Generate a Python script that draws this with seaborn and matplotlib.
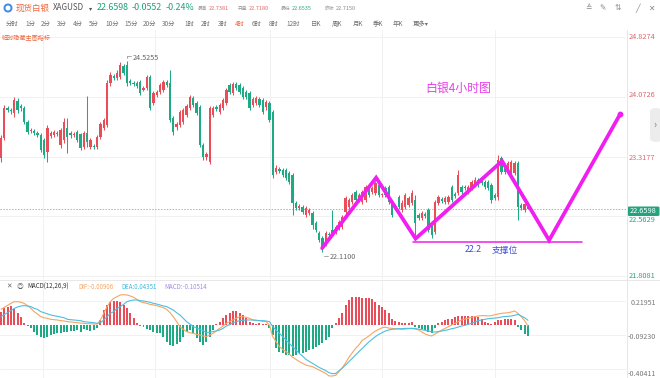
import numpy as np
import matplotlib
matplotlib.use('Agg')
import matplotlib.pyplot as plt
import seaborn as sns
from matplotlib.patches import Ellipse, FancyBboxPatch
from matplotlib.lines import Line2D

# ---------------- data (4h silver candles) ----------------
opens = [23.30, 23.55, 23.93, 23.91, 23.87, 24.02, 23.96, 23.93, 23.75, 23.64,
         23.64, 23.62, 23.59, 23.53, 23.37, 23.58, 23.59, 23.62, 23.46, 23.53,
         23.68, 23.62, 23.59, 23.63, 23.60, 23.44, 23.62, 23.44, 23.45, 23.44,
         23.56, 23.68, 23.72, 24.25, 24.34, 24.31, 24.32, 24.46, 24.47, 24.27,
         24.25, 24.25, 24.26, 24.16, 24.18, 24.32, 23.99, 24.10, 24.13, 24.16,
         24.26, 24.25, 23.80, 23.69, 23.72, 23.75, 23.84, 23.93, 24.06, 23.99,
         23.94, 23.46, 23.31, 23.25, 23.84, 23.94, 23.88, 23.93, 23.99, 24.22,
         24.12, 24.23, 24.22, 24.18, 24.13, 24.12, 23.97, 23.99, 24.04, 24.03,
         23.94, 23.99, 23.88, 23.12, 23.16, 23.15, 23.15, 23.11, 23.09, 22.73,
         22.67, 22.68, 22.58, 22.60, 22.60, 22.48, 22.35, 22.29, 22.23, 22.34,
         22.39, 22.36, 22.42, 22.43, 22.62, 22.68, 22.74, 22.87, 22.77, 22.74,
         22.77, 22.89, 22.87, 22.86, 22.96, 22.83, 22.92, 22.93, 22.73, 22.67,
         22.81, 22.64, 22.68, 22.71, 22.73, 22.77, 22.58, 22.54, 22.59, 22.64,
         22.48, 22.36, 22.73, 22.78, 22.74, 22.74, 22.93, 22.84, 22.86, 22.93,
         22.92, 22.87, 22.92, 22.96, 23.02, 23.05, 23.00, 23.00, 22.96, 22.83,
         22.81, 23.30, 23.21, 23.15, 23.09, 23.11, 23.24, 22.71, 22.64, 22.718]
closes = [23.55, 23.93, 23.91, 23.89, 24.03, 23.91, 23.93, 23.75, 23.63, 23.65,
          23.62, 23.59, 23.40, 23.34, 23.68, 23.62, 23.63, 23.60, 23.65, 23.75,
          23.56, 23.59, 23.60, 23.53, 23.43, 23.62, 23.50, 23.53, 23.44, 23.56,
          23.73, 23.78, 24.25, 24.35, 24.31, 24.37, 24.47, 24.37, 24.25, 24.25,
          24.23, 24.21, 24.12, 24.18, 24.32, 23.93, 24.12, 24.13, 24.22, 24.26,
          24.22, 23.78, 23.63, 23.73, 23.88, 23.91, 23.96, 24.07, 23.97, 23.87,
          23.46, 23.31, 23.35, 23.93, 23.93, 23.92, 23.97, 24.03, 24.16, 24.13,
          24.23, 24.18, 24.13, 24.07, 24.07, 23.93, 24.04, 24.06, 23.97, 23.88,
          24.01, 23.78, 23.09, 23.17, 23.14, 23.09, 23.05, 23.00, 22.73, 22.67,
          22.69, 22.62, 22.67, 22.64, 22.45, 22.39, 22.26, 22.16, 22.35, 22.33,
          22.34, 22.43, 22.49, 22.55, 22.79, 22.77, 22.83, 22.77, 22.83, 22.87,
          22.93, 22.83, 22.92, 22.98, 22.83, 22.84, 22.83, 22.74, 22.58, 22.69,
          22.68, 22.73, 22.83, 22.79, 22.86, 22.48, 22.54, 22.60, 22.57, 22.39,
          22.33, 22.74, 22.81, 22.76, 22.79, 22.81, 22.77, 22.82, 23.09, 22.87,
          22.93, 22.93, 23.00, 23.02, 22.96, 22.98, 22.93, 22.92, 22.77, 22.79,
          23.27, 23.12, 23.12, 23.24, 23.25, 23.24, 22.68, 22.67, 22.715, 22.6598]
highs = [23.59, 23.97, 23.96, 23.93, 24.07, 24.06, 23.98, 23.96, 23.78, 23.68,
         23.67, 23.64, 23.62, 23.55, 23.72, 23.64, 23.65, 23.64, 23.68, 23.80,
         23.80, 23.64, 23.63, 23.65, 23.62, 23.64, 24.08, 23.55, 23.48, 23.59,
         23.75, 23.80, 24.28, 24.39, 24.36, 24.41, 24.51, 24.49, 24.5255, 24.30,
         24.27, 24.27, 24.28, 24.21, 24.35, 24.35, 24.15, 24.16, 24.25, 24.28,
         24.28, 24.41, 23.83, 23.75, 23.91, 23.93, 23.98, 24.10, 24.08, 24.02,
         23.97, 23.49, 23.37, 23.96, 23.96, 23.97, 23.99, 24.06, 24.18, 24.25,
         24.26, 24.26, 24.25, 24.21, 24.16, 24.15, 24.07, 24.08, 24.07, 24.06,
         24.03, 24.02, 23.91, 23.21, 23.18, 23.17, 23.17, 23.14, 23.11, 22.76,
         22.72, 22.71, 22.69, 22.67, 22.63, 22.50, 22.38, 22.31, 22.38, 22.36,
         22.64, 22.45, 22.52, 22.58, 22.82, 22.79, 22.86, 22.89, 22.86, 22.89,
         22.96, 22.92, 22.95, 23.01, 22.98, 22.86, 22.95, 22.96, 22.76, 22.72,
         22.83, 22.77, 22.86, 22.82, 22.89, 22.83, 22.60, 22.63, 22.62, 22.67,
         22.50, 22.77, 22.83, 22.81, 22.82, 22.83, 22.96, 22.87, 23.15, 22.96,
         22.96, 22.96, 23.02, 23.06, 23.05, 23.07, 23.02, 23.02, 22.98, 22.86,
         23.34, 23.32, 23.24, 23.26, 23.27, 23.26, 23.26, 22.73, 22.73, 22.7381]
lows = [23.25, 23.53, 23.88, 23.85, 23.82, 23.87, 23.89, 23.73, 23.60, 23.62,
        23.59, 23.56, 23.37, 23.30, 23.25, 23.55, 23.56, 23.58, 23.43, 23.49,
        23.36, 23.55, 23.56, 23.50, 23.40, 23.41, 23.44, 23.41, 23.41, 23.41,
        23.54, 23.65, 23.69, 24.21, 24.28, 24.28, 24.30, 24.35, 24.21, 24.22,
        24.21, 24.18, 24.10, 24.15, 24.16, 23.91, 23.97, 24.07, 24.11, 24.13,
        24.20, 23.75, 23.59, 23.65, 23.69, 23.73, 23.82, 23.91, 23.94, 23.84,
        23.44, 23.27, 23.27, 23.22, 23.82, 23.89, 23.85, 23.91, 23.97, 24.11,
        24.10, 24.16, 24.11, 24.04, 24.04, 23.91, 23.94, 23.97, 23.94, 23.85,
        23.91, 23.75, 23.05, 23.10, 23.11, 23.06, 23.02, 22.97, 22.58, 22.64,
        22.64, 22.59, 22.55, 22.58, 22.40, 22.36, 22.24, 22.11, 22.19, 22.30,
        22.31, 22.34, 22.39, 22.40, 22.59, 22.66, 22.72, 22.74, 22.74, 22.72,
        22.74, 22.81, 22.84, 22.83, 22.81, 22.81, 22.81, 22.72, 22.55, 22.64,
        22.66, 22.62, 22.66, 22.68, 22.71, 22.33, 22.52, 22.52, 22.54, 22.36,
        22.29, 22.34, 22.71, 22.73, 22.72, 22.72, 22.74, 22.79, 22.83, 22.84,
        22.89, 22.84, 22.89, 22.93, 22.93, 22.96, 22.91, 22.89, 22.73, 22.77,
        22.77, 23.10, 23.10, 23.12, 23.06, 23.09, 22.52, 22.64, 22.62, 22.6535]

dif = [0.144, 0.163, 0.181, 0.199, 0.215, 0.215, 0.209, 0.199, 0.178, 0.153,
       0.123, 0.101, 0.077, 0.067, 0.061, 0.052, 0.049, 0.046, 0.040, 0.037,
       0.031, 0.028, 0.025, 0.021, 0.018, 0.015, 0.012, 0.012, 0.009, 0.009,
       0.046, 0.107, 0.169, 0.215, 0.245, 0.261, 0.276, 0.279, 0.276, 0.267,
       0.255, 0.236, 0.215, 0.206, 0.199, 0.190, 0.184, 0.178, 0.169, 0.159,
       0.144, 0.113, 0.077, 0.031, -0.015, -0.040, -0.061, -0.071, -0.077, -0.086,
       -0.092, -0.101, -0.107, -0.092, -0.077, -0.052, -0.031, -0.009, 0.015, 0.031,
       0.046, 0.061, 0.077, 0.077, 0.071, 0.061, 0.046, 0.043, 0.040, 0.034,
       0.031, 0.000, -0.107, -0.153, -0.199, -0.224, -0.245, -0.267, -0.297, -0.316,
       -0.337, -0.353, -0.368, -0.377, -0.383, -0.399, -0.414, -0.429, -0.445, -0.469,
       -0.469, -0.463, -0.429, -0.393, -0.347, -0.297, -0.255, -0.215, -0.184, -0.141,
       -0.123, -0.101, -0.077, -0.055, -0.040, -0.025, -0.021, -0.028, -0.031, -0.034,
       -0.037, -0.040, -0.037, -0.034, -0.031, -0.037, -0.046, -0.064, -0.083, -0.095,
       -0.101, -0.083, -0.064, -0.046, -0.031, -0.015, 0.000, 0.015, 0.031, 0.046,
       0.055, 0.061, 0.071, 0.077, 0.083, 0.086, 0.086, 0.083, 0.086, 0.095,
       0.101, 0.107, 0.110, 0.113, 0.120, 0.129, 0.107, 0.077, 0.040, -0.00906]
dea = [0.077, 0.095, 0.113, 0.132, 0.153, 0.166, 0.175, 0.178, 0.175, 0.169,
       0.153, 0.144, 0.123, 0.113, 0.104, 0.092, 0.086, 0.080, 0.074, 0.067,
       0.052, 0.049, 0.046, 0.043, 0.040, 0.031, 0.028, 0.025, 0.021, 0.015,
       0.021, 0.046, 0.077, 0.107, 0.123, 0.153, 0.169, 0.190, 0.215, 0.224,
       0.230, 0.230, 0.224, 0.221, 0.215, 0.209, 0.199, 0.193, 0.184, 0.175,
       0.169, 0.153, 0.138, 0.113, 0.092, 0.061, 0.031, 0.009, -0.015, -0.028,
       -0.040, -0.052, -0.071, -0.067, -0.061, -0.055, -0.046, -0.031, -0.009, 0.003,
       0.021, 0.031, 0.040, 0.043, 0.046, 0.046, 0.046, 0.043, 0.040, 0.040,
       0.037, 0.031, -0.015, -0.046, -0.077, -0.107, -0.138, -0.169, -0.199, -0.230,
       -0.261, -0.285, -0.316, -0.334, -0.353, -0.371, -0.390, -0.405, -0.420, -0.439,
       -0.448, -0.445, -0.420, -0.396, -0.368, -0.337, -0.307, -0.276, -0.245, -0.215,
       -0.184, -0.156, -0.132, -0.107, -0.086, -0.071, -0.055, -0.046, -0.040, -0.037,
       -0.034, -0.034, -0.031, -0.031, -0.031, -0.034, -0.037, -0.043, -0.049, -0.055,
       -0.064, -0.064, -0.061, -0.055, -0.049, -0.043, -0.034, -0.028, -0.018, -0.009,
       -0.003, 0.006, 0.015, 0.028, 0.040, 0.046, 0.052, 0.058, 0.061, 0.064,
       0.067, 0.074, 0.077, 0.080, 0.083, 0.089, 0.098, 0.083, 0.067, 0.04351]
macd_hist = [0.120, 0.156, 0.166, 0.175, 0.147, 0.110, 0.074, 0.018, -0.009, -0.028,
             -0.064, -0.092, -0.110, -0.120, -0.110, -0.092, -0.083, -0.074, -0.074, -0.064,
             -0.064, -0.055, -0.055, -0.046, -0.064, -0.037, -0.046, -0.055, -0.046, -0.028,
             0.046, 0.138, 0.184, 0.212, 0.221, 0.221, 0.212, 0.184, 0.156, 0.110,
             0.064, 0.018, -0.009, -0.018, -0.037, -0.046, -0.064, -0.074, -0.074, -0.110,
             -0.156, -0.184, -0.193, -0.175, -0.156, -0.110, -0.064, -0.046, -0.074, -0.120,
             -0.156, -0.184, -0.156, -0.110, -0.046, 0.009, 0.028, 0.064, 0.092, 0.110,
             0.129, 0.129, 0.110, 0.092, 0.064, 0.028, 0.014, 0.009, 0.014, 0.009,
             0.009, -0.028, -0.092, -0.212, -0.248, -0.258, -0.276, -0.276, -0.285, -0.276,
             -0.258, -0.258, -0.248, -0.230, -0.221, -0.202, -0.184, -0.166, -0.138, -0.110,
             -0.028, 0.018, 0.064, 0.110, 0.184, 0.230, 0.258, 0.258, 0.258, 0.248,
             0.248, 0.248, 0.239, 0.212, 0.184, 0.166, 0.138, 0.110, 0.055, 0.037,
             0.028, 0.018, 0.018, 0.018, 0.028, -0.018, -0.028, -0.037, -0.046, -0.064,
             -0.074, -0.028, 0.018, 0.028, 0.046, 0.055, 0.055, 0.074, 0.083, 0.083,
             0.083, 0.083, 0.083, 0.083, 0.074, 0.055, 0.028, 0.018, 0.009, 0.028,
             0.046, 0.046, 0.055, 0.055, 0.055, 0.046, -0.018, -0.046, -0.080, -0.10514]

price_ticks = [24.8274, 24.0726, 23.3177, 22.5629, 21.8081]
price_tick_labels = ['24.8274', '24.0726', '23.3177', '22.5629', '21.8081']
macd_ticks = [0.21951, -0.09230, -0.40411]
macd_tick_labels = ['0.21951', '-0.09230', '-0.40411']
last_price = 22.6598
peak_label, low_label = '24.5255', '22.1100'

# hand-drawn annotation (candle index, price)
zig_x = [96.9, 113.2, 125.1, 151.2, 165.4, 186.8]
zig_y = [22.16, 23.05, 22.28, 23.26, 22.26, 23.85]
support_x = [124.3, 175.3]
support_y = 22.24

periods = ['分时', '1分', '2分', '3分', '4分', '5分', '10分', '15分', '20分', '30分',
           '1时', '2时', '3时', '4时', '6时', '8时', '12时', '日K', '周K', '月K', '季K', '年K', '更多▾']
period_x = [6, 25, 41, 57, 73, 89, 105, 124, 143, 162, 184, 201, 218, 235, 252, 269,
            286, 311, 332, 353, 373, 393, 413]

# ---------------- style ----------------
sns.set_theme(style='white')
plt.rcParams['font.family'] = ['Noto Sans CJK SC', 'DejaVu Sans']
plt.rcParams['axes.unicode_minus'] = False

UP = '#ea4d5a'
DN = '#1fa985'
GRID = '#f1f1f1'

W, H = 660, 378
fig = plt.figure(figsize=(6.6, 3.78), dpi=100)
fig.patch.set_facecolor('white')

def fx(x):
    return x / W

def fy(y):
    return 1 - y / H

def ftext(x, y, s, size, color, ha='left', **kw):
    fig.text(fx(x), fy(y), s, fontsize=size, color=color, ha=ha, va='center', **kw)

def p_of(y):
    return 25.2948 - 0.012633 * y

def m_of(y):
    return (325 - y) * 0.0092

XL = (-0.302, 188.6)
vgrid = [12.67, 46.5, 81.2, 115.0, 149.1]

ax = fig.add_axes([0, fy(279), fx(626), (279 - 30) / H])
axm = fig.add_axes([0, 0, fx(626), (378 - 280) / H])

# ---------------- candles ----------------
O = np.array(opens); C = np.array(closes); Hh = np.array(highs); Ll = np.array(lows)
idx = np.arange(len(O))
cols = np.where(C >= O, UP, DN)
ax.vlines(idx, Ll, Hh, colors=cols, lw=0.75, zorder=3)
body = np.maximum(np.abs(C - O), 0.012)
ax.bar(idx, body, bottom=np.minimum(O, C), width=0.7, color=cols, linewidth=0, zorder=4)

ax.set_xlim(*XL)
ax.set_ylim(p_of(279), p_of(30))
ax.set_yticks(price_ticks)
ax.set_xticks(vgrid)
ax.grid(True, color=GRID, lw=0.7)
ax.tick_params(labelleft=False, labelbottom=False, length=0)
for s in ax.spines.values():
    s.set_visible(False)
ax.axhline(last_price, color='#7ccdb5', lw=0.7, ls=(0, (1.5, 1.5)), zorder=2)

# annotation zigzag
MAG = '#f01ef0'
ax.plot(zig_x, zig_y, color=MAG, lw=2.7, solid_joinstyle='miter', zorder=6, clip_on=False)
ax.plot([zig_x[-1]], [zig_y[-1]], 'o', color=MAG, ms=3.2, zorder=6, clip_on=False)
ax.plot(support_x, [support_y, support_y], color=MAG, lw=1.1, zorder=6)

# ---------------- MACD ----------------
hist = np.array(macd_hist)
axm.bar(idx, hist, width=0.6, color=np.where(hist >= 0, UP, DN), linewidth=0, zorder=3)
sns.lineplot(x=idx, y=dif, ax=axm, color='#f6a561', lw=0.8, zorder=4)
sns.lineplot(x=idx, y=dea, ax=axm, color='#4cbfe0', lw=0.8, zorder=4)
axm.set_xlim(*XL)
axm.set_ylim(m_of(378), m_of(280))
axm.set_yticks(macd_ticks)
axm.set_xticks(vgrid)
axm.grid(True, color=GRID, lw=0.7)
axm.tick_params(labelleft=False, labelbottom=False, length=0)
axm.set_xlabel(''); axm.set_ylabel('')
for s in axm.spines.values():
    s.set_visible(False)

# frame lines
fig.add_artist(Line2D([fx(626.5), fx(626.5)], [fy(30), 0], color='#e6e6e6', lw=0.7))
fig.add_artist(Line2D([0, 1], [fy(280), fy(280)], color='#e8e8e8', lw=0.7))

# ---------------- right axis labels ----------------
lab_y = [37, 95, 158, 220, 276]
lab_c = ['#e0686f', '#e0686f', '#e0686f', '#2aa588', '#2aa588']
for t, yy, cc in zip(price_tick_labels, lab_y, lab_c):
    ftext(629, yy, t, 5.3, cc)
fig.add_artist(FancyBboxPatch((fx(627.5), fy(216)), fx(32), 9.5 / H,
                              boxstyle='round,pad=0,rounding_size=0.003',
                              fc='#22a47f', ec='none', transform=fig.transFigure))
ftext(643.5, 211.2, '22.6598', 5.3, 'white', ha='center')
for t, yy in zip(macd_tick_labels, [303, 337, 374]):
    ftext(656, yy, t, 5.1, '#777777', ha='right')

fig.add_artist(FancyBboxPatch((fx(650), fy(142)), fx(12), 34 / H,
                              boxstyle='round,pad=0,rounding_size=0.01',
                              fc='#ececec', ec='none', transform=fig.transFigure))
ftext(655, 125, '›', 7, '#777777', ha='center')

# ---------------- chart annotations ----------------
ftext(133, 58, peak_label, 5.2, '#666666')
fig.add_artist(Line2D([fx(127), fx(131)], [fy(55.5), fy(55.5)], color='#9a9a9a', lw=0.6))
fig.add_artist(Line2D([fx(127), fx(127)], [fy(55.5), fy(58)], color='#9a9a9a', lw=0.6))
ftext(330, 257, low_label, 5.2, '#666666')
fig.add_artist(Line2D([fx(324), fx(328)], [fy(256), fy(256)], color='#9a9a9a', lw=0.6))

ftext(425, 88, '白银4小时图', 8.6, '#e83ee8')
ftext(465, 250, '22.2', 6.3, '#3b4fd8')
ftext(492, 250, '支撑位', 6.3, '#3b4fd8')

# ---------------- header ----------------
fig.add_artist(Ellipse((fx(8), fy(8)), 9 / W, 9 / H, fc='#3d8de6', ec='none', transform=fig.transFigure))
fig.add_artist(Ellipse((fx(8), fy(8)), 5 / W, 5 / H, fc='white', ec='none', transform=fig.transFigure))
ftext(16, 8, '现货白银', 6.1, '#f0653a')
ftext(53, 8, 'XAGUSD', 5.8, '#555555')
ftext(89, 8.5, '▾', 4.5, '#555555')
ftext(97, 8, '22.6598', 6.4, '#1aa37b')
ftext(132, 8, '-0.0552', 6.4, '#1aa37b')
ftext(166, 8, '-0.24%', 6.4, '#1aa37b')
hdr = [(198, '最高', '#999999'), (208.5, '22.7381', '#e0686f'),
       (238, '开盘', '#999999'), (248.5, '22.7180', '#e0686f'),
       (281, '最低', '#999999'), (291.5, '22.6535', '#2aa588'),
       (325, '昨收', '#999999'), (335.5, '22.7150', '#888888')]
for xx, t, cc in hdr:
    ftext(xx, 8, t, 3.4 if not t[0].isdigit() else 4.0, cc)

for lab, xx in zip(periods, period_x):
    ftext(xx, 24, lab, 4.6, '#f0653a' if lab == '4时' else '#707070')
ftext(2, 37, '临时隐藏主图指标', 4.4, '#f0653a')

for xx, g in zip([588, 603, 618, 638, 651], ['≙', '✎', '⇅', '╱', '✕']):
    fig.text(fx(xx), fy(8), g, fontsize=5.5, color='#888888', ha='center', va='center',
             family=['DejaVu Sans', 'Noto Sans CJK SC'])

# MACD header
ftext(9, 287, '✕', 4.8, '#666666', ha='center')
ftext(20, 287, '◎', 4.8, '#666666', ha='center')
ftext(27, 287, 'MACD(12,26,9)', 4.4, '#333333')
ftext(78, 287, 'DIF:-0.00906', 4.4, '#f6a561')
ftext(121, 287, 'DEA:0.04351', 4.4, '#3fb9dc')
ftext(164, 287, 'MACD:-0.10514', 4.4, '#a58ce2')

fig.savefig('out.png', dpi=100, facecolor='white')
